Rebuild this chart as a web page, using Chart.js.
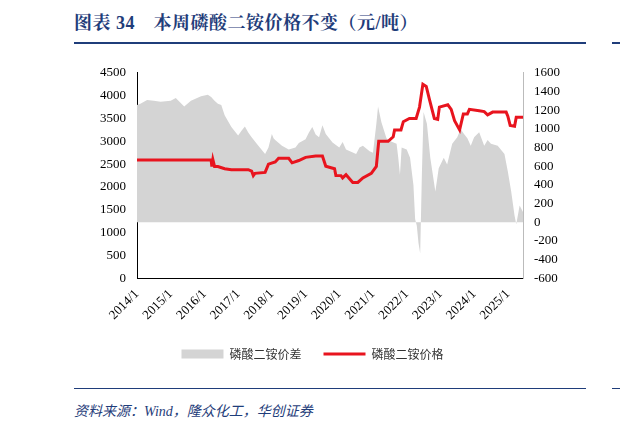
<!DOCTYPE html>
<html><head><meta charset="utf-8">
<script src="https://cdn.jsdelivr.net/npm/chart.js@4"></script>
<style>
body{margin:0;background:#fff;width:620px;height:430px;position:relative;overflow:hidden;font-family:"Liberation Serif","Noto Sans CJK SC",serif}
#t{position:absolute;left:74px;top:8px;font-size:18px;font-weight:bold;color:#1f3d7a;font-family:"Liberation Serif","Noto Serif CJK SC","Noto Sans CJK SC",serif;letter-spacing:0.5px}
#l1{position:absolute;left:74px;top:42px;width:512px;height:2px;background:#1f3d7a}
#l2{position:absolute;left:74px;top:388px;width:512px;height:1px;background:#1f3d7a}
#s{position:absolute;left:74px;top:400px;font-size:14px;font-style:italic;color:#1f3d7a;font-family:"Liberation Serif","Noto Sans CJK SC",serif}
#r1{position:absolute;left:612px;top:42px;width:8px;height:2px;background:#1f3d7a}
#r2{position:absolute;left:612px;top:388px;width:8px;height:1px;background:#1f3d7a}
#c{position:absolute;left:40px;top:62px;width:545px;height:308px}
</style></head><body>
<div id="t">图表 34　本周磷酸二铵价格不变（元/吨）</div>
<div id="l1"></div><div id="r1"></div>
<div id="c"><canvas id="cv"></canvas></div>
<div id="l2"></div><div id="r2"></div>
<div id="s">资料来源：Wind，隆众化工，华创证券</div>
<script>
const seriesNames=["磷酸二铵价差","磷酸二铵价格"];
const yearTicks=[2014,2015,2016,2017,2018,2019,2020,2021,2022,2023,2024,2025];
const priceX=[2014.0,2016.2,2016.22,2016.25,2016.3,2016.4,2016.6,2016.8,2017.3,2017.4,2017.45,2017.5,2017.8,2017.9,2018.1,2018.2,2018.5,2018.6,2018.8,2019.0,2019.3,2019.5,2019.6,2019.86,2019.9,2020.05,2020.1,2020.2,2020.4,2020.55,2020.7,2020.95,2021.1,2021.17,2021.45,2021.6,2021.64,2021.83,2021.9,2022.08,2022.28,2022.38,2022.48,2022.58,2022.68,2022.82,2022.92,2022.97,2023.22,2023.32,2023.42,2023.57,2023.68,2023.8,2023.86,2024.15,2024.3,2024.4,2024.55,2024.95,2025.0,2025.07,2025.2,2025.25,2025.45];
const priceY=[2590,2590,2450,2600,2450,2450,2400,2380,2380,2350,2250,2300,2320,2500,2550,2630,2630,2530,2580,2650,2680,2680,2455,2400,2254,2250,2200,2270,2100,2100,2200,2300,2450,3000,3000,3100,3250,3250,3430,3500,3500,3750,4250,4200,3900,3500,3480,3750,3800,3700,3450,3250,3600,3600,3700,3670,3650,3580,3640,3640,3550,3350,3330,3530,3530];
const spreadX=[2014.0,2014.1,2014.3,2014.5,2014.7,2015.0,2015.15,2015.4,2015.6,2015.9,2016.1,2016.2,2016.3,2016.4,2016.5,2016.6,2016.8,2017.0,2017.1,2017.2,2017.3,2017.4,2017.6,2017.8,2017.9,2018.0,2018.05,2018.1,2018.3,2018.5,2018.7,2018.8,2019.0,2019.1,2019.2,2019.3,2019.4,2019.5,2019.6,2019.7,2019.8,2020.0,2020.1,2020.2,2020.5,2020.6,2020.7,2020.9,2021.0,2021.1,2021.15,2021.25,2021.4,2021.5,2021.7,2021.75,2021.8,2021.85,2022.0,2022.1,2022.2,2022.25,2022.3,2022.35,2022.4,2022.45,2022.5,2022.6,2022.7,2022.85,2022.95,2023.1,2023.2,2023.35,2023.5,2023.6,2023.7,2023.8,2023.9,2024.0,2024.15,2024.3,2024.4,2024.5,2024.7,2024.9,2025.0,2025.1,2025.2,2025.25,2025.35,2025.45];
const spreadY=[1255,1270,1310,1300,1290,1300,1330,1240,1300,1350,1365,1340,1300,1270,1255,1145,1020,930,980,1025,960,910,820,730,800,945,900,880,820,780,800,850,890,960,1020,940,910,1040,945,900,855,800,860,780,730,800,820,760,745,1055,1240,1070,900,870,840,690,510,800,780,690,400,35,-36,-220,-330,510,1180,1055,690,330,580,690,620,840,910,1000,945,900,820,910,965,820,880,840,820,730,545,330,70,-20,180,110];
const fnt={family:"Liberation Serif",size:13};
new Chart(document.getElementById('cv'),{
 data:{datasets:[
  {type:'line',label:seriesNames[0],data:spreadX.map((x,i)=>({x,y:spreadY[i]})),yAxisID:'y1',fill:{value:0},backgroundColor:'#d4d4d4',borderWidth:0,borderColor:'#d4d4d4',pointRadius:0,tension:0,order:2,pointStyle:'rect'},
  {type:'line',label:seriesNames[1],data:priceX.map((x,i)=>({x,y:priceY[i]})),yAxisID:'y',borderColor:'#e8141e',backgroundColor:'#e8141e',borderWidth:3,pointRadius:0,tension:0,order:1,pointStyle:'line'}
 ]},
 options:{responsive:true,maintainAspectRatio:false,animation:false,
  layout:{padding:{left:0,right:0,top:10,bottom:0}},
  plugins:{legend:{position:'bottom',labels:{sort:(a,b)=>a.datasetIndex-b.datasetIndex,usePointStyle:true,pointStyleWidth:42,boxHeight:9,font:{family:"Noto Sans CJK SC",size:12},color:'#333',padding:22}},tooltip:{enabled:false}},
  scales:{
   x:{type:'linear',min:2014,max:2025.45,afterBuildTicks:a=>{a.ticks=yearTicks.map(v=>({value:v}));},
      ticks:{callback:v=>v+'/1',maxRotation:45,minRotation:45,font:fnt,color:'#000',autoSkip:false},
      grid:{display:false,drawTicks:true,tickLength:5},border:{color:'#000'}},
   y:{position:'left',min:0,max:4500,ticks:{stepSize:500,autoSkip:false,font:fnt,color:'#000',callback:v=>String(v)},grid:{display:false},border:{color:'#000'},afterFit:s=>{s.width=97}},
   y1:{position:'right',min:-600,max:1600,ticks:{stepSize:200,autoSkip:false,font:fnt,color:'#000',callback:v=>String(v)},grid:{display:false},border:{color:'#bbb'},afterFit:s=>{s.width=62}}
  }}
});
</script></body></html>
